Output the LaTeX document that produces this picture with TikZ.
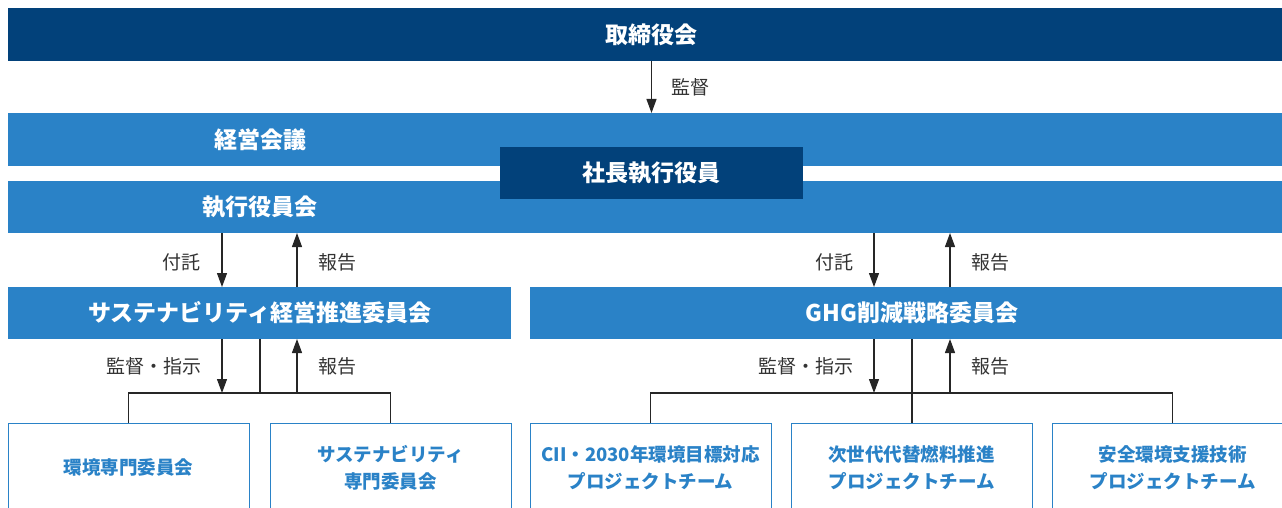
\documentclass[tikz,border=0pt]{standalone}
\usepackage{fontspec}
\setmainfont{Noto Sans CJK JP}
\usetikzlibrary{arrows.meta}
\definecolor{navy}{HTML}{02417A}
\definecolor{mid}{HTML}{2A82C7}
\definecolor{lbl}{HTML}{333333}
\begin{document}
\begin{tikzpicture}[x=1pt,y=-1pt,
  barbase/.style={inner sep=0pt, outer sep=0pt, anchor=north west, text width=0pt},
  darkbar/.style={barbase, fill=navy},
  midbar/.style={barbase, fill=mid},
  bartext/.style={text=white, font=\fontsize{23}{27}\selectfont\bfseries, inner sep=0pt},
  subbox/.style={draw=mid, line width=1pt, fill=white, inner sep=0pt, outer sep=0pt, anchor=north west,
    minimum width=241pt, minimum height=90pt, align=center, text=mid,
    font=\fontsize{18.5}{27.5}\selectfont\bfseries},
  lab/.style={text=lbl, font=\fontsize{19}{22}\selectfont, inner sep=0pt},
  arr/.style={draw=black!85, line width=1.2pt, -{Triangle[width=10pt,length=14pt]}},
  ln/.style={draw=black!85, line width=1.2pt}
]
\useasboundingbox (0,0) rectangle (1282,508);
\clip (0,0) rectangle (1282,508);

% bars
\node[darkbar, minimum width=1274pt, minimum height=53pt] (top) at (8,8) {};
\node[midbar, minimum width=1274pt, minimum height=53pt] (keiei) at (8,113) {};
\node[midbar, minimum width=1274pt, minimum height=52pt] (exec) at (8,181) {};
\node[darkbar, minimum width=303pt, minimum height=52pt] (pres) at (500,147) {};
\node[midbar, minimum width=503pt, minimum height=52pt] (sus) at (8,287) {};
\node[midbar, minimum width=752pt, minimum height=52pt] (ghg) at (530,287) {};

% bar texts
\node[bartext] (ttop) at (651,34.5) {取締役会};
\node[bartext] (tkeiei) at (260,139.5) {経営会議};
\node[bartext] (texec) at (260,207.5) {執行役員会};
\node[bartext] (tpres) at (651.5,173) {社長執行役員};
\node[bartext] (tsus) at (260,313) {サステナビリティ経営推進委員会};
\node[bartext] (tghg) at (912,313) {GHG削減戦略委員会};

% sub boxes
\node[subbox] (b1) at (8,423) {環境専門委員会};
\node[subbox] (b2) at (270,423) {サステナビリティ\\専門委員会};
\node[subbox] (b3) at (530,423) {CII・2030年環境目標対応\\プロジェクトチーム};
\node[subbox] (b4) at (791,423) {次世代代替燃料推進\\プロジェクトチーム};
\node[subbox] (b5) at (1052,423) {安全環境支援技術\\プロジェクトチーム};

% junction coordinates
\coordinate (jl) at (260,393);
\coordinate (jr) at (912,393);

% top arrow
\draw[arr] (top.south -| pres.north) -- (keiei.north -| pres.north);
\node[lab] (l0) at (690,87) {監督};

% left upper arrows
\draw[arr] (exec.south -| 222,0) -- (sus.north -| 222,0);
\draw[arr] (sus.north -| 297,0) -- (exec.south -| 297,0);
\node[lab] (l1) at (181.5,262) {付託};
\node[lab] (l2) at (337,262) {報告};

% right upper arrows
\draw[arr] (exec.south -| 874,0) -- (ghg.north -| 874,0);
\draw[arr] (ghg.north -| 950,0) -- (exec.south -| 950,0);
\node[lab] (l3) at (834.5,262) {付託};
\node[lab] (l4) at (990,262) {報告};

% left lower
\draw[ln] (b1.north) -- (b1.north |- jl) -- (b2.north |- jl) -- (b2.north);
\draw[ln] (sus.south -| jl) -- (jl);
\draw[arr] (sus.south -| 222,0) -- (jl -| 222,0);
\draw[arr] (jl -| 297,0) -- (sus.south -| 297,0);
\node[lab] (l5) at (153.5,366) {監督・指示};
\node[lab] (l6) at (337,366) {報告};

% right lower
\draw[ln] (b3.north) -- (b3.north |- jr) -- (b5.north |- jr) -- (b5.north);
\draw[ln] (ghg.south -| jr) -- (jr) -- (b4.north -| jr);
\draw[arr] (ghg.south -| 874,0) -- (jr -| 874,0);
\draw[arr] (jr -| 950,0) -- (ghg.south -| 950,0);
\node[lab] (l7) at (805.5,366) {監督・指示};
\node[lab] (l8) at (990,366) {報告};
\end{tikzpicture}
\end{document}
